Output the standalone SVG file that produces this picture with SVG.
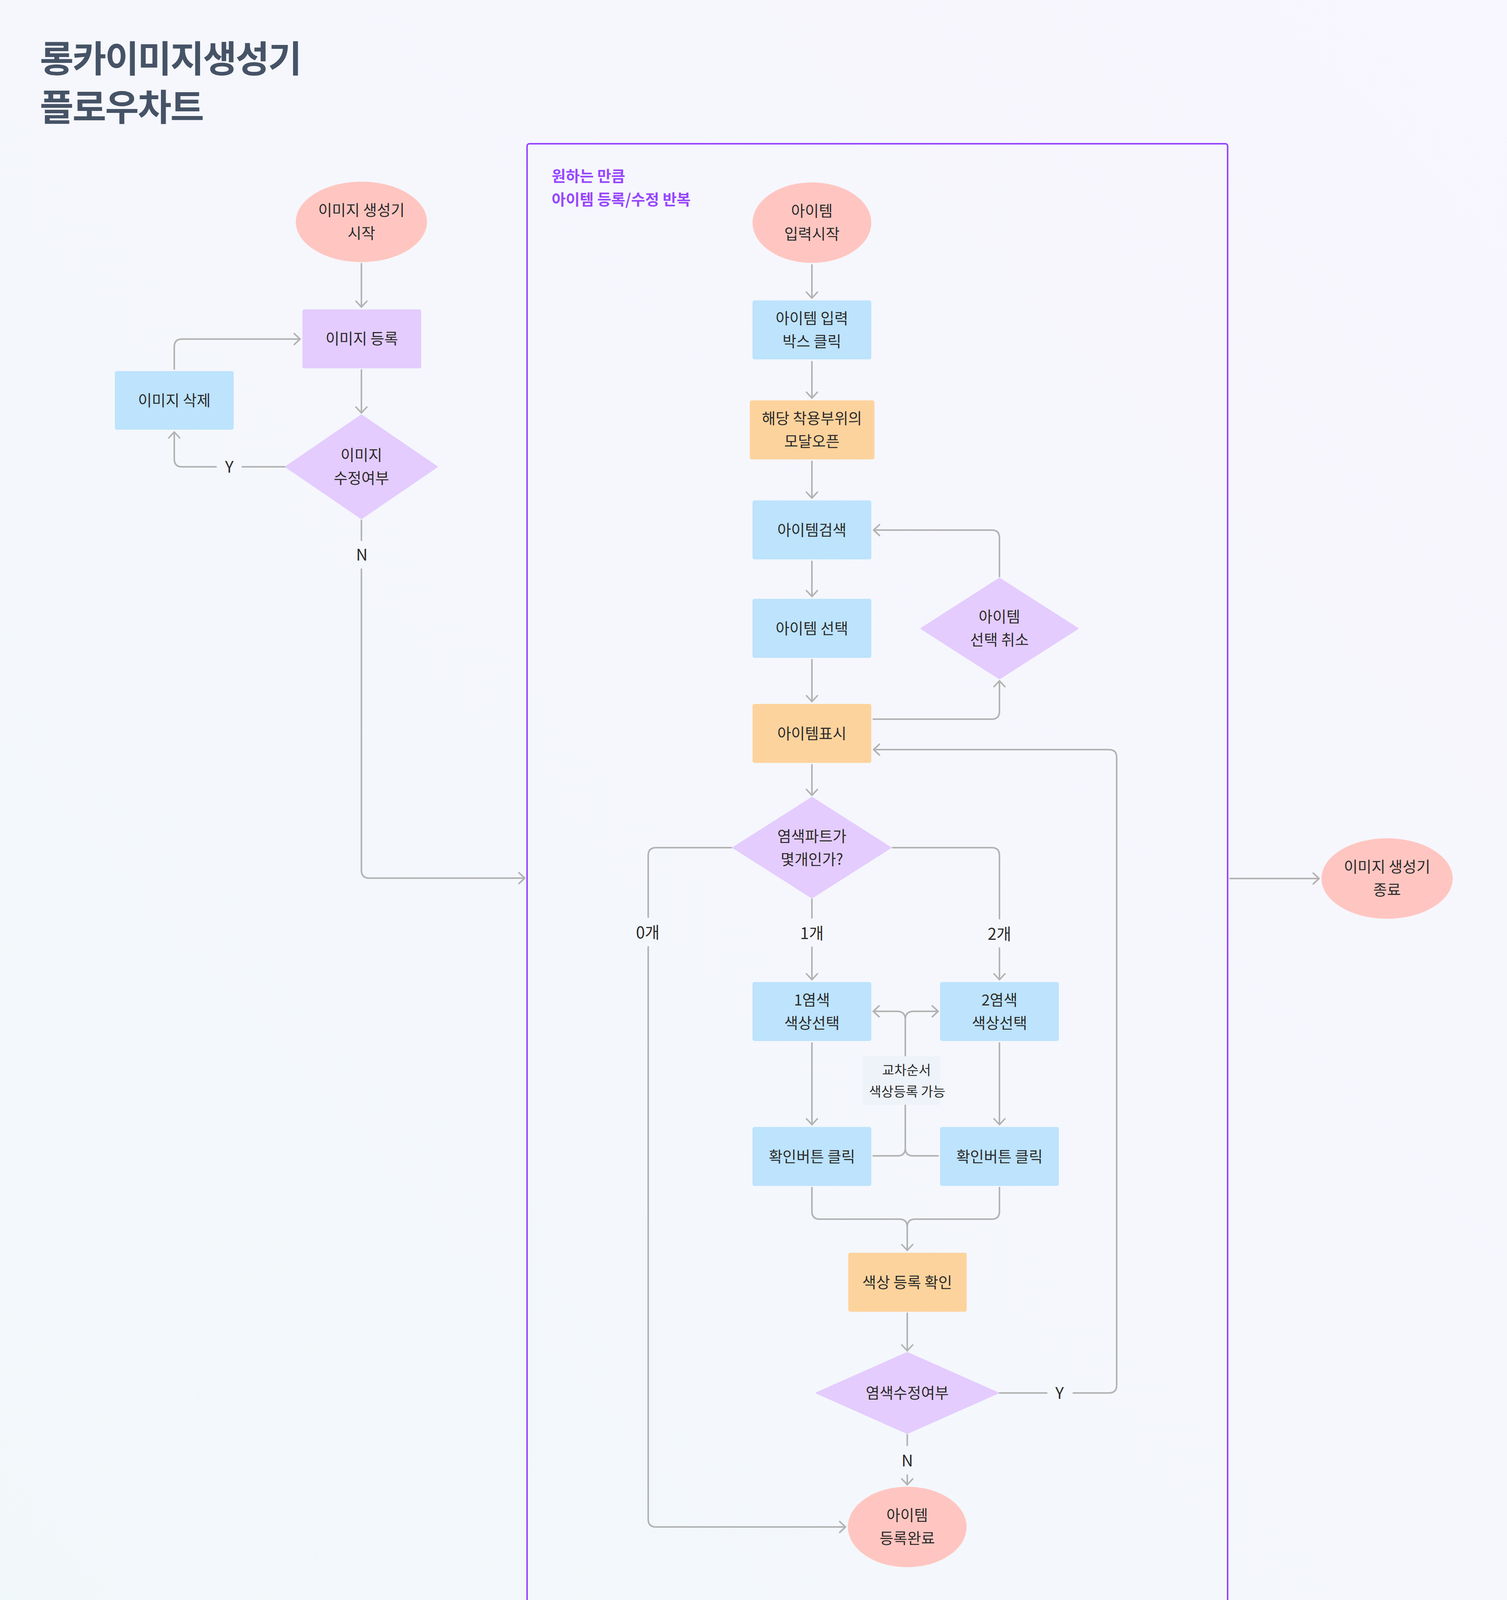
<svg xmlns="http://www.w3.org/2000/svg" width="3857" height="4265" viewBox="0 0 3857 4265">
<defs>
<linearGradient id="bg" x1="1" y1="0" x2="0" y2="1">
<stop offset="0" stop-color="#F8F6FE"/>
<stop offset="0.5" stop-color="#F5F7FC"/>
<stop offset="1" stop-color="#F1F8FA"/>
</linearGradient>
<marker id="arr" markerUnits="userSpaceOnUse" viewBox="-20 -18 24 36" refX="0" refY="0" markerWidth="24" markerHeight="36" orient="auto" overflow="visible">
<path d="M-15,-14 L0,0 L-15,14" fill="none" stroke="#B3B3B3" stroke-width="4" stroke-linecap="round" stroke-linejoin="round"/>
</marker>
</defs>
<style>
text{font-family:"Noto Sans CJK KR","Noto Sans",sans-serif;fill:#2B2B2B;text-anchor:middle;font-size:38.5px}
.title{font-size:94px;font-weight:700;fill:#465366;text-anchor:start;letter-spacing:-3px}
.grp{font-size:39px;font-weight:700;fill:#9747FF;text-anchor:start}
.lbl{font-size:41px}
.note{font-size:34px}
.pink{fill:#FFC6C1}
.lav{fill:#E4CCFE}
.blue{fill:#BDE3FD}
.orng{fill:#FDD39D}
.notebg{fill:#EEF2F9}
#connectors path{fill:none;stroke:#B3B3B3;stroke-width:4;stroke-linecap:round;stroke-linejoin:round}
#connectors path.a{marker-end:url(#arr)}
</style>
<rect x="0" y="0" width="3857" height="4265" fill="url(#bg)"/>

<g id="title">
<text class="title" x="102" y="185">롱카이미지생성기</text>
<text class="title" x="102" y="309">플로우차트</text>
</g>

<g id="group-repeat">
<rect x="1349" y="368" width="1793" height="3762" rx="6" fill="none" stroke="#9747FF" stroke-width="4"/>
<text class="grp" x="1412" y="465">원하는 만큼</text>
<text class="grp" x="1412" y="525">아이템 등록/수정 반복</text>
</g>

<g id="connectors">
<path class="a" d="M925,675 V786"/>
<path class="a" d="M925,947 V1057"/>
<path d="M730,1195 H620"/>
<path class="a" d="M553,1195 H466 Q446,1195 446,1175 V1106"/>
<path class="a" d="M446,945 V888 Q446,868 466,868 H768"/>
<path d="M925,1332 V1383"/>
<path class="a" d="M925,1457 V2228 Q925,2248 945,2248 H1343"/>
<path class="a" d="M2078,678 V763"/>
<path class="a" d="M2078,926 V1019"/>
<path class="a" d="M2078,1181 V1275"/>
<path class="a" d="M2078,1437 V1527"/>
<path class="a" d="M2078,1689 V1796"/>
<path class="a" d="M2235,1841 H2538 Q2558,1841 2558,1821 V1743"/>
<path class="a" d="M2558,1476 V1377 Q2558,1357 2538,1357 H2236"/>
<path class="a" d="M2078,1958 V2036"/>
<path d="M1872,2170 H1679 Q1659,2170 1659,2190 V2348"/>
<path class="a" d="M1659,2424 V3889 Q1659,3909 1679,3909 H2164"/>
<path d="M2078,2302 V2350"/>
<path class="a" d="M2078,2425 V2508"/>
<path d="M2284,2170 H2538 Q2558,2170 2558,2190 V2352"/>
<path class="a" d="M2558,2427 V2508"/>
<path class="a" d="M2078,2670 V2879"/>
<path class="a" d="M2558,2670 V2879"/>
<path d="M2235,2959 H2297 Q2317,2959 2317,2939 V2829"/>
<path d="M2401,2959 H2337 Q2317,2959 2317,2939"/>
<path class="a" d="M2317,2704 V2610 Q2317,2589 2296,2589 H2235"/>
<path class="a" d="M2317,2610 Q2317,2589 2338,2589 H2401"/>
<path d="M2078,3040 V3101 Q2078,3121 2098,3121 H2302 Q2322,3121 2322,3141"/>
<path class="a" d="M2558,3040 V3101 Q2558,3121 2538,3121 H2342 Q2322,3121 2322,3141 V3201"/>
<path class="a" d="M2322,3362 V3458"/>
<path d="M2558,3566 H2679"/>
<path class="a" d="M2747,3566 H2838 Q2858,3566 2858,3546 V1939 Q2858,1919 2838,1919 H2236"/>
<path d="M2322,3673 V3700"/>
<path class="a" d="M2322,3776 V3801"/>
<path class="a" d="M3148,2249 H3376"/>
</g>

<g id="connector-labels">
<text class="lbl" x="587" y="1210">Y</text>
<text class="lbl" x="926" y="1435">N</text>
<text class="lbl" x="1658" y="2402">0개</text>
<text class="lbl" x="2078" y="2404">1개</text>
<text class="lbl" x="2558" y="2406">2개</text>
<text class="lbl" x="2712" y="3581">Y</text>
<text class="lbl" x="2322" y="3754">N</text>
</g>

<g id="n-start">
<ellipse class="pink" cx="925" cy="568" rx="168" ry="103"/>
<text x="925" y="552">이미지 생성기</text>
<text x="925" y="611">시작</text>
</g>
<g id="n-img-register">
<rect class="lav" x="774" y="792" width="304" height="151" rx="5"/>
<text x="926" y="881">이미지 등록</text>
</g>
<g id="n-img-delete">
<rect class="blue" x="294" y="950" width="304" height="150" rx="5"/>
<text x="446" y="1039">이미지 삭제</text>
</g>
<g id="n-img-edit">
<polygon class="lav" points="925,1063 1118,1195 925,1327 732,1195" stroke="#E4CCFE" stroke-width="4" stroke-linejoin="round"/>
<text x="925" y="1179">이미지</text>
<text x="925" y="1238">수정여부</text>
</g>

<g id="n-item-start">
<ellipse class="pink" cx="2078" cy="570" rx="152" ry="103"/>
<text x="2078" y="554">아이템</text>
<text x="2078" y="613">입력시작</text>
</g>
<g id="n-item-click">
<rect class="blue" x="1926" y="769" width="304" height="151" rx="5"/>
<text x="2078" y="829">아이템 입력</text>
<text x="2078" y="888">박스 클릭</text>
</g>
<g id="n-modal">
<rect class="orng" x="1919" y="1025" width="319" height="151" rx="5"/>
<text x="2078" y="1085">해당 착용부위의</text>
<text x="2078" y="1144">모달오픈</text>
</g>
<g id="n-search">
<rect class="blue" x="1926" y="1281" width="304" height="151" rx="5"/>
<text x="2078" y="1371">아이템검색</text>
</g>
<g id="n-select">
<rect class="blue" x="1926" y="1533" width="304" height="151" rx="5"/>
<text x="2078" y="1623">아이템 선택</text>
</g>
<g id="n-display">
<rect class="orng" x="1926" y="1802" width="304" height="151" rx="5"/>
<text x="2078" y="1892">아이템표시</text>
</g>
<g id="n-cancel">
<polygon class="lav" points="2558,1481 2758,1609 2558,1737 2358,1609" stroke="#E4CCFE" stroke-width="4" stroke-linejoin="round"/>
<text x="2558" y="1593">아이템</text>
<text x="2558" y="1652">선택 취소</text>
</g>
<g id="n-parts">
<polygon class="lav" points="2078,2042 2279,2170 2078,2298 1877,2170" stroke="#E4CCFE" stroke-width="4" stroke-linejoin="round"/>
<text x="2078" y="2155">염색파트가</text>
<text x="2078" y="2214">몇개인가?</text>
</g>
<g id="n-color1">
<rect class="blue" x="1926" y="2514" width="304" height="151" rx="5"/>
<text x="2078" y="2574">1염색</text>
<text x="2078" y="2633">색상선택</text>
</g>
<g id="n-color2">
<rect class="blue" x="2406" y="2514" width="304" height="151" rx="5"/>
<text x="2558" y="2574">2염색</text>
<text x="2558" y="2633">색상선택</text>
</g>
<g id="n-confirm1">
<rect class="blue" x="1926" y="2885" width="304" height="151" rx="5"/>
<text x="2078" y="2975">확인버튼 클릭</text>
</g>
<g id="n-confirm2">
<rect class="blue" x="2406" y="2885" width="304" height="151" rx="5"/>
<text x="2558" y="2975">확인버튼 클릭</text>
</g>
<g id="n-note">
<rect class="notebg" x="2208" y="2704" width="198" height="124"/>
<text class="note" x="2320" y="2752">교차순서</text>
<text class="note" x="2322" y="2807">색상등록 가능</text>
</g>
<g id="n-color-confirm">
<rect class="orng" x="2171" y="3207" width="303" height="151" rx="5"/>
<text x="2322" y="3297">색상 등록 확인</text>
</g>
<g id="n-dye-edit">
<polygon class="lav" points="2322,3463 2554,3566 2322,3669 2090,3566" stroke="#E4CCFE" stroke-width="4" stroke-linejoin="round"/>
<text x="2322" y="3580">염색수정여부</text>
</g>
<g id="n-item-done">
<ellipse class="pink" cx="2322" cy="3909" rx="152" ry="103"/>
<text x="2322" y="3893">아이템</text>
<text x="2322" y="3952">등록완료</text>
</g>
<g id="n-end">
<ellipse class="pink" cx="3550" cy="2249" rx="168" ry="103"/>
<text x="3550" y="2233">이미지 생성기</text>
<text x="3550" y="2292">종료</text>
</g>
</svg>
